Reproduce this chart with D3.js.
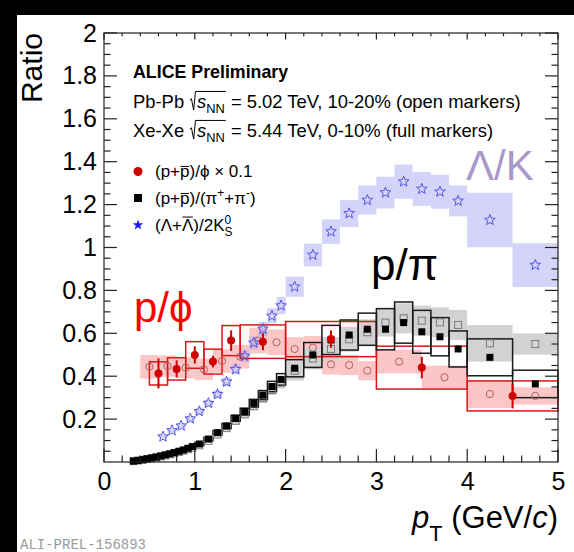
<!DOCTYPE html>
<html>
<head>
<meta charset="utf-8">
<script src="https://cdn.jsdelivr.net/npm/d3@7"></script>
<style>
  html, body { margin: 0; padding: 0; background: #fff; }
  svg { display: block; font-family: "Liberation Sans", Arial, sans-serif; }
  svg text { white-space: pre; }
</style>
</head>
<body>
<svg id="chart" width="574" height="552"></svg>
<script>
// ---- data -------------------------------------------------------------
// (p+pbar)/phi x 0.1, Xe-Xe 0-10% (full markers)
const phiXeX    = [0.6, 0.8, 1.0, 1.2, 1.4, 1.75, 2.5, 3.5, 4.5];
const phiXeW    = [0.2, 0.2, 0.2, 0.2, 0.2, 0.5, 1.0, 1.0, 1.0];
const phiXeY    = [0.413, 0.434, 0.499, 0.468, 0.566, 0.561, 0.573, 0.440, 0.308];
const phiXeStat = [0.070, 0.040, 0.040, 0.027, 0.048, 0.040, 0.040, 0.050, 0.058];
const phiXeSys  = [0.054, 0.052, 0.062, 0.058, 0.070, 0.078, 0.082, 0.100, 0.070];

// (p+pbar)/phi x 0.1, Pb-Pb 10-20% (open markers)
const phiPbX   = [0.5, 0.7, 0.9, 1.1, 1.3, 1.5, 1.7, 1.9, 2.1, 2.3, 2.5, 2.7, 2.9, 3.25, 3.75, 4.25, 4.75];
const phiPbW   = [0.2, 0.2, 0.2, 0.2, 0.2, 0.2, 0.2, 0.2, 0.2, 0.2, 0.2, 0.2, 0.2, 0.5, 0.5, 0.5, 0.5];
const phiPbY   = [0.444, 0.447, 0.440, 0.432, 0.471, 0.491, 0.566, 0.558, 0.527, 0.533, 0.455, 0.452, 0.426, 0.468, 0.395, 0.317, 0.308];
const phiPbSys = [0.055, 0.050, 0.050, 0.050, 0.055, 0.055, 0.060, 0.060, 0.055, 0.055, 0.047, 0.047, 0.045, 0.055, 0.054, 0.065, 0.040];

// (p+pbar)/(pi+ + pi-)
const ppiX = [0.325, 0.375, 0.425, 0.475, 0.525, 0.575, 0.625, 0.675, 0.725, 0.775, 0.825, 0.875, 0.925, 0.975,
              1.05, 1.15, 1.25, 1.35, 1.45, 1.55, 1.65, 1.75, 1.85, 1.95,
              2.1, 2.3, 2.5, 2.7, 2.9, 3.1, 3.3, 3.5, 3.7, 3.9, 4.25, 4.75];
const ppiW = [0.05, 0.05, 0.05, 0.05, 0.05, 0.05, 0.05, 0.05, 0.05, 0.05, 0.05, 0.05, 0.05, 0.05,
              0.1, 0.1, 0.1, 0.1, 0.1, 0.1, 0.1, 0.1, 0.1, 0.1,
              0.2, 0.2, 0.2, 0.2, 0.2, 0.2, 0.2, 0.2, 0.2, 0.2, 0.5, 0.5];
const ppiXeY   = [0.004, 0.007, 0.011, 0.015, 0.019, 0.023, 0.028, 0.033, 0.038, 0.044, 0.050, 0.056, 0.064, 0.072,
                  0.084, 0.107, 0.137, 0.168, 0.204, 0.235, 0.274, 0.312, 0.352, 0.385,
                  0.437, 0.499, 0.569, 0.592, 0.619, 0.619, 0.650, 0.607, 0.584, 0.527, 0.488, 0.364];
const ppiXeSys = [0.002, 0.002, 0.002, 0.003, 0.003, 0.003, 0.003, 0.003, 0.004, 0.004, 0.004, 0.005, 0.005, 0.006,
                  0.007, 0.008, 0.010, 0.012, 0.014, 0.016, 0.018, 0.021, 0.024, 0.027,
                  0.040, 0.058, 0.068, 0.070, 0.075, 0.096, 0.096, 0.100, 0.089, 0.084, 0.086, 0.064];
const ppiPbY   = [0.004, 0.007, 0.010, 0.014, 0.018, 0.022, 0.026, 0.031, 0.036, 0.041, 0.047, 0.053, 0.060, 0.067,
                  0.078, 0.099, 0.128, 0.158, 0.192, 0.222, 0.260, 0.297, 0.336, 0.370,
                  0.425, 0.482, 0.527, 0.572, 0.605, 0.650, 0.670, 0.659, 0.651, 0.639, 0.553, 0.550];
const ppiPbSys = [0.002, 0.002, 0.002, 0.003, 0.003, 0.003, 0.003, 0.003, 0.004, 0.004, 0.004, 0.005, 0.005, 0.006,
                  0.007, 0.008, 0.010, 0.012, 0.014, 0.016, 0.018, 0.021, 0.024, 0.027,
                  0.045, 0.050, 0.055, 0.058, 0.060, 0.065, 0.070, 0.070, 0.070, 0.070, 0.085, 0.050];

// (Lambda+Lambdabar)/2K0S
const lkX   = [0.65, 0.75, 0.85, 0.95, 1.05, 1.15, 1.25, 1.35, 1.45, 1.55, 1.65, 1.75, 1.85, 1.95,
               2.1, 2.3, 2.5, 2.7, 2.9, 3.1, 3.3, 3.5, 3.7, 3.9, 4.25, 4.75];
const lkW   = [0.1, 0.1, 0.1, 0.1, 0.1, 0.1, 0.1, 0.1, 0.1, 0.1, 0.1, 0.1, 0.1, 0.1,
               0.2, 0.2, 0.2, 0.2, 0.2, 0.2, 0.2, 0.2, 0.2, 0.2, 0.5, 0.5];
const lkY   = [0.118, 0.147, 0.169, 0.202, 0.236, 0.274, 0.316, 0.374, 0.432, 0.494, 0.556, 0.620, 0.681, 0.729,
               0.817, 0.965, 1.074, 1.159, 1.221, 1.256, 1.307, 1.273, 1.260, 1.217, 1.128, 0.918];
const lkSys = [0.008, 0.009, 0.010, 0.012, 0.014, 0.016, 0.018, 0.021, 0.024, 0.027, 0.030, 0.033, 0.036, 0.040,
               0.047, 0.053, 0.057, 0.063, 0.068, 0.074, 0.080, 0.079, 0.079, 0.072, 0.127, 0.102];

// axis ticks
const xTickLabels = [0, 1, 2, 3, 4, 5];
const yTickLabels = [0.2, 0.4, 0.6, 0.8, 1, 1.2, 1.4, 1.6, 1.8, 2];

// ---- layout -----------------------------------------------------------
const svg = d3.select("#chart");
const W = 574, H = 552;
const x = d3.scaleLinear().domain([0, 5]).range([104, 558]);
const y = d3.scaleLinear().domain([0, 2]).range([462, 33]);

svg.append("rect").attr("width", W).attr("height", H).attr("fill", "#fff");

const zip = (xs, ...cols) => xs.map((v, i) => [v, ...cols.map(c => c[i])]);

// ---- systematic boxes ---------------------------------------------------
function boxes(rows, fill, stroke, sw) {
  svg.append("g").selectAll("rect").data(rows).join("rect")
    .attr("x", d => x(d[0] - d[1] / 2))
    .attr("width", d => x(d[0] + d[1] / 2) - x(d[0] - d[1] / 2))
    .attr("y", d => y(d[2] + d[3]))
    .attr("height", d => y(d[2] - d[3]) - y(d[2] + d[3]))
    .attr("fill", fill).attr("stroke", stroke).attr("stroke-width", sw);
}
boxes(zip(phiPbX, phiPbW, phiPbY, phiPbSys), "#fcc6c6", "none", 0);
boxes(zip(ppiX, ppiW, ppiPbY, ppiPbSys), "#d2d2d2", "none", 0);
boxes(zip(lkX, lkW, lkY, lkSys), "rgba(160,160,245,0.45)", "none", 0);
boxes(zip(phiXeX, phiXeW, phiXeY, phiXeSys), "none", "#d81818", 1.5);
boxes(zip(ppiX, ppiW, ppiXeY, ppiXeSys), "none", "#1a1a1a", 1.5);

// ---- markers ----------------------------------------------------------
const starPath = (R, r) => {
  const pts = [];
  for (let k = 0; k < 10; k++) {
    const a = -Math.PI / 2 + k * Math.PI / 5;
    const rad = k % 2 ? r : R;
    pts.push([rad * Math.cos(a), rad * Math.sin(a)]);
  }
  return "M" + pts.map(p => p[0].toFixed(2) + "," + p[1].toFixed(2)).join("L") + "Z";
};

// Pb-Pb p/phi open circles
svg.append("g").selectAll("circle").data(zip(phiPbX, phiPbY)).join("circle")
  .attr("cx", d => x(d[0])).attr("cy", d => y(d[1])).attr("r", 3.6)
  .attr("fill", "none").attr("stroke", "#b06060").attr("stroke-width", 1);

// Pb-Pb p/pi open squares
svg.append("g").selectAll("rect").data(zip(ppiX, ppiPbY)).join("rect")
  .attr("x", d => x(d[0]) - 3.5).attr("y", d => y(d[1]) - 3.5)
  .attr("width", 7).attr("height", 7)
  .attr("fill", "none").attr("stroke", "#7a7a7a").attr("stroke-width", 1);

// Lambda/K0S stars
svg.append("g").selectAll("path").data(zip(lkX, lkY)).join("path")
  .attr("transform", d => `translate(${x(d[0])},${y(d[1])})`)
  .attr("d", starPath(5.6, 2.4))
  .attr("fill", "none").attr("stroke", "#5656e0").attr("stroke-width", 1);

// Xe-Xe p/pi full squares
svg.append("g").selectAll("rect").data(zip(ppiX, ppiXeY)).join("rect")
  .attr("x", d => x(d[0]) - 3.5).attr("y", d => y(d[1]) - 3.5)
  .attr("width", 7).attr("height", 7).attr("fill", "#000");

// Xe-Xe p/phi full circles with statistical bars
const gPhi = svg.append("g");
gPhi.selectAll("line").data(zip(phiXeX, phiXeY, phiXeStat)).join("line")
  .attr("x1", d => x(d[0])).attr("x2", d => x(d[0]))
  .attr("y1", d => y(d[1] - d[2])).attr("y2", d => y(d[1] + d[2]))
  .attr("stroke", "#d00000").attr("stroke-width", 2);
gPhi.selectAll("circle").data(zip(phiXeX, phiXeY)).join("circle")
  .attr("cx", d => x(d[0])).attr("cy", d => y(d[1])).attr("r", 4)
  .attr("fill", "#d00000");

// ---- frame and axes ---------------------------------------------------
const axisColor = "#222";
const frame = svg.append("g");
frame.append("rect")
  .attr("x", x(0)).attr("y", y(2)).attr("width", x(5) - x(0)).attr("height", y(0) - y(2))
  .attr("fill", "none").attr("stroke", axisColor).attr("stroke-width", 1.2);

const xMinor = d3.range(0, 5.001, 0.2);
const yMinor = d3.range(0, 2.001, 0.05);
function ticks(vals, isMajor, horiz) {
  const len = isMajor ? 13 : 6.5;
  vals.forEach(v => {
    if (horiz) {
      frame.append("line").attr("x1", x(v)).attr("x2", x(v)).attr("y1", y(0)).attr("y2", y(0) - len)
        .attr("stroke", axisColor).attr("stroke-width", 1.2);
      frame.append("line").attr("x1", x(v)).attr("x2", x(v)).attr("y1", y(2)).attr("y2", y(2) + len * 0.5)
        .attr("stroke", axisColor).attr("stroke-width", 1.2);
    } else {
      frame.append("line").attr("x1", x(0)).attr("x2", x(0) + len).attr("y1", y(v)).attr("y2", y(v))
        .attr("stroke", axisColor).attr("stroke-width", 1.2);
      frame.append("line").attr("x1", x(5)).attr("x2", x(5) - len).attr("y1", y(v)).attr("y2", y(v))
        .attr("stroke", axisColor).attr("stroke-width", 1.2);
    }
  });
}
ticks(xMinor.filter(v => Math.abs(v - Math.round(v)) > 1e-6), false, true);
ticks(xTickLabels, true, true);
ticks(yMinor.filter(v => Math.abs(v * 5 - Math.round(v * 5)) > 1e-6), false, false);
ticks(yTickLabels, true, false);

// tick labels through d3 axes (tick lines hidden, drawn above)
const xAxis = svg.append("g").attr("transform", `translate(0,${y(0)})`)
  .call(d3.axisBottom(x).tickValues(xTickLabels).tickSize(0).tickPadding(10).tickFormat(d3.format("d")));
const yAxis = svg.append("g").attr("transform", `translate(${x(0)},0)`)
  .call(d3.axisLeft(y).tickValues(yTickLabels).tickSize(0).tickPadding(7).tickFormat(d => d3.format("~g")(d)));
[xAxis, yAxis].forEach(a => {
  a.select(".domain").remove();
  a.selectAll("text").attr("font-size", 25).attr("fill", "#000")
    .attr("font-family", "'Liberation Sans', Arial, sans-serif");
});

// ---- rich text helper -------------------------------------------------
function rich(g, x0, y0, parts, fs, color) {
  let cx = x0;
  parts.forEach(p => {
    if (p.sqrt) {
      const start = cx;
      cx += fs * 0.42;
      const inner = rich(g, cx, y0, p.sqrt, fs, color);
      const top = y0 - fs * 0.9;
      g.append("path")
        .attr("d", `M${start + 0.5},${y0 - fs * 0.42} L${start + fs * 0.12},${y0 - fs * 0.5} L${start + fs * 0.24},${y0 + fs * 0.12} L${start + fs * 0.34},${top} L${inner + 1},${top}`)
        .attr("fill", "none").attr("stroke", color).attr("stroke-width", 1);
      cx = inner + 1;
      return;
    }
    const small = p.sub || p.sup;
    const size = small ? fs * 0.7 : fs;
    const dy = p.sub ? fs * (p.subDy || 0.3) : p.sup ? -fs * 0.42 : 0;
    const t = g.append("text").attr("x", cx).attr("y", y0 + dy)
      .attr("font-size", size).attr("fill", color)
      .attr("font-style", p.it ? "italic" : "normal")
      .attr("font-weight", p.bold ? "bold" : "normal")
      .text(p.t);
    const w = t.node().getComputedTextLength();
    if (p.bar) {
      const by = y0 - fs * (p.barH || 0.78);
      g.append("line").attr("x1", cx + 0.5).attr("x2", cx + w - 0.5).attr("y1", by).attr("y2", by)
        .attr("stroke", color).attr("stroke-width", 1);
    }
    if (!p.keep) cx += w;
  });
  return cx;
}

// ---- header -----------------------------------------------------------
const hdr = svg.append("g");
rich(hdr, 133, 78, [{ t: "ALICE Preliminary", bold: true }], 17.8, "#000");
const sNN = [{ sqrt: [{ t: "s", it: true }, { t: "NN", sub: true, subDy: 0.28 }] }];
rich(hdr, 133, 108, [{ t: "Pb-Pb " }, ...sNN, { t: " = 5.02 TeV, 10-20% (open markers)" }], 18.4, "#000");
rich(hdr, 133, 137, [{ t: "Xe-Xe " }, ...sNN, { t: " = 5.44 TeV, 0-10% (full markers)" }], 18.4, "#000");

// ---- legend -----------------------------------------------------------
const leg = svg.append("g");
leg.append("circle").attr("cx", 138).attr("cy", 171.5).attr("r", 4.5).attr("fill", "#d00000");
leg.append("rect").attr("x", 134).attr("y", 194).attr("width", 8).attr("height", 8).attr("fill", "#000");
leg.append("path").attr("transform", "translate(138,225)").attr("d", starPath(5.5, 2.3)).attr("fill", "#1c1cff");
rich(leg, 155, 177, [{ t: "(p+" }, { t: "p", bar: true, barH: 0.62 }, { t: ")/ϕ × 0.1" }], 17, "#000");
rich(leg, 155, 204, [{ t: "(p+" }, { t: "p", bar: true, barH: 0.62 }, { t: ")/(π" }, { t: "+", sup: true },
  { t: "+π" }, { t: "-", sup: true }, { t: ")" }], 17, "#000");
rich(leg, 155, 231, [{ t: "(Λ+" }, { t: "Λ", bar: true, barH: 0.82 }, { t: ")/2K" }, { t: "0", sup: true, keep: true },
  { t: "S", sub: true, subDy: 0.32 }], 17, "#000");

// ---- big ratio labels -------------------------------------------------
svg.append("text").attr("x", 466).attr("y", 180).attr("font-size", 42).attr("fill", "#a898cc").text("Λ/K");
svg.append("text").attr("x", 371).attr("y", 280).attr("font-size", 44).attr("fill", "#000").text("p/π");
svg.append("text").attr("x", 134).attr("y", 322).attr("font-size", 42).attr("fill", "#ff0000").text("p/ϕ");

// ---- axis titles ------------------------------------------------------
svg.append("text").attr("transform", "translate(42,33) rotate(-90)")
  .attr("text-anchor", "end").attr("font-size", 30).attr("fill", "#000").text("Ratio");
const xt = svg.append("g");
const xtEnd = rich(xt, 0, 528, [{ t: "p", it: true }, { t: "T", sub: true, subDy: 0.42 }, { t: " (GeV/" }, { t: "c", it: true }, { t: ")" }], 31, "#000");
xt.attr("transform", `translate(${558 - xtEnd},0)`);

// ---- page border and tag ----------------------------------------------
svg.append("rect").attr("x", 0).attr("y", 0).attr("width", W).attr("height", 15).attr("fill", "#000");
svg.append("rect").attr("x", 0).attr("y", 0).attr("width", 17).attr("height", H).attr("fill", "#000");
svg.append("text").attr("x", 20).attr("y", 549).attr("font-size", 14)
  .attr("font-family", "'Liberation Mono', 'DejaVu Sans Mono', monospace").attr("fill", "#9a9a9a")
  .text("ALI-PREL-156893");
</script>
</body>
</html>
